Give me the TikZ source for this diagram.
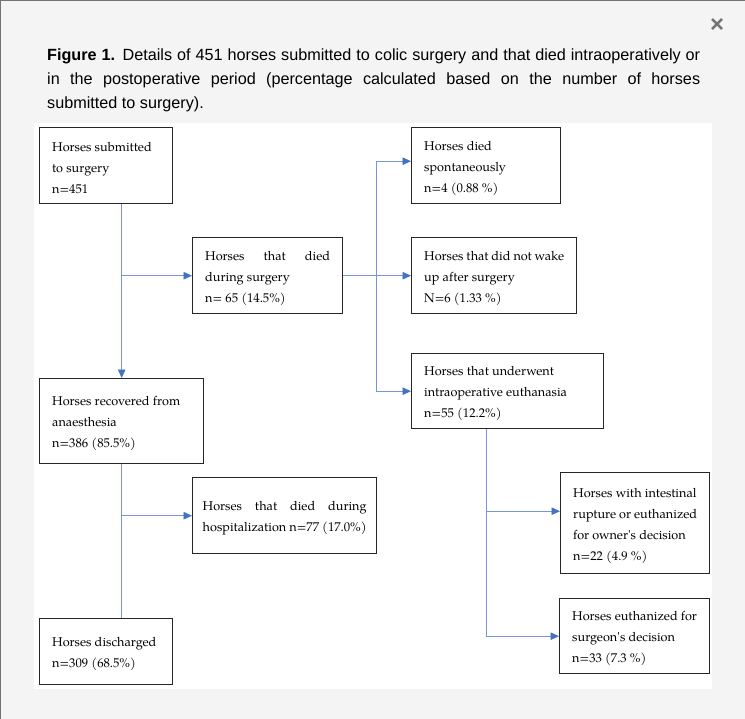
\documentclass[tikz,border=0pt]{standalone}
\usepackage{fontspec}
\setmainfont{Liberation Sans}
\newfontfamily\boxfont{texgyrepagella-regular.otf}
\usetikzlibrary{arrows.meta,calc}
\definecolor{pagegrey}{RGB}{244,244,244}
\definecolor{flowblue}{RGB}{120,150,215}
\definecolor{tipblue}{RGB}{68,114,196}
\begin{document}
\begin{tikzpicture}[x=1bp,y=-1bp,
  box/.style={draw=black!85,line width=1.4bp,anchor=north west,inner xsep=12.5bp,inner ysep=0pt,
    align=justify,font=\boxfont\fontsize{12.7bp}{21bp}\selectfont,
    execute at begin node={\rule{0pt}{14.5bp}}},
  flow/.style={draw=flowblue,line width=0.9bp},
  tip/.style={-{Triangle[length=8.5bp,width=7.5bp,fill=tipblue,color=tipblue]}}]
\useasboundingbox (0,0) rectangle (745,719);
%page and panel
\fill[pagegrey] (0,0) rectangle (745,719);
\fill[white] (34,123) rectangle (712,689);
\draw[black!55,line width=2bp] (0,719) -- (0,0) -- (745,0);
\node[text=black!55,font=\bfseries\fontsize{24bp}{24bp}\selectfont] (close) at (717,26) {×};
%caption
\node[anchor=north west,inner sep=0pt,text width=653bp,align=justify,
  font=\fontsize{16.2bp}{24bp}\selectfont] (cap) at (47,48.5)
  {\textbf{Figure 1.} Details of 451 horses submitted to colic surgery and that died intraoperatively or\linebreak
   in the postoperative period (percentage calculated based on the number of horses\linebreak
   submitted to surgery).};
%left column
\node[box,text width=108bp,minimum height=76bp] (sub) at (39,127)
  {Horses submitted\\ to surgery\\ n=451};
\node[box,text width=139bp,minimum height=85bp] (rec) at (39,378)
  {Horses recovered from\\ anaesthesia\\ n=386 (85.5\%)};
\node[box,text width=108bp,minimum height=66bp] (dis) at (39,618)
  {Horses discharged\\ n=309 (68.5\%)};
%middle column
\node[box,text width=125bp,minimum height=76bp] (died) at (192,237)
  {Horses that died\linebreak during surgery\\ n= 65 (14.5\%)};
\node[box,inner xsep=10bp,text width=164bp,minimum height=76bp] (hosp) at (192,477)
  {Horses that died during\linebreak hospitalization n=77 (17.0\%)};
%right column
\node[box,text width=124bp,minimum height=76bp] (spont) at (411,127)
  {Horses died\\ spontaneously\\ n=4 (0.88 \%)};
\node[box,text width=140bp,minimum height=76bp] (wake) at (411,237)
  {Horses that did not wake\\ up after surgery\\ N=6 (1.33 \%)};
\node[box,text width=167bp,minimum height=75bp] (euth) at (411,353)
  {Horses that underwent\\ intraoperative euthanasia\\ n=55 (12.2\%)};
\node[box,text width=124bp,minimum height=101bp] (rupt) at (560,472)
  {Horses with intestinal\\ rupture or euthanized\\ for owner's decision\\ n=22 (4.9 \%)};
\node[box,text width=125bp,minimum height=75bp] (surg) at (559,598)
  {Horses euthanized for\\ surgeon's decision\\ n=33 (7.3 \%)};
%connectors
\coordinate (split) at ([xshift=33bp]died.east);
\coordinate (eu) at ([xshift=-21bp]euth.south);
\draw[flow,tip] (sub.south -| rec.north) -- (rec.north);
\draw[flow,tip] (rec.north |- died.west) -- (died.west);
\draw[flow] (rec.south) -- (rec.south |- dis.north);
\draw[flow,tip] (rec.south |- hosp.west) -- (hosp.west);
\draw[flow] (died.east) -- (split);
\draw[flow,tip] (split) |- ([yshift=4.5bp]spont.west);
\draw[flow,tip] (split) -- (split -| wake.west);
\draw[flow,tip] (split) |- (euth.west);
\draw[flow,tip] (eu) |- ([yshift=12bp]rupt.west);
\draw[flow,tip] (eu) |- (surg.west);
\end{tikzpicture}
\end{document}
